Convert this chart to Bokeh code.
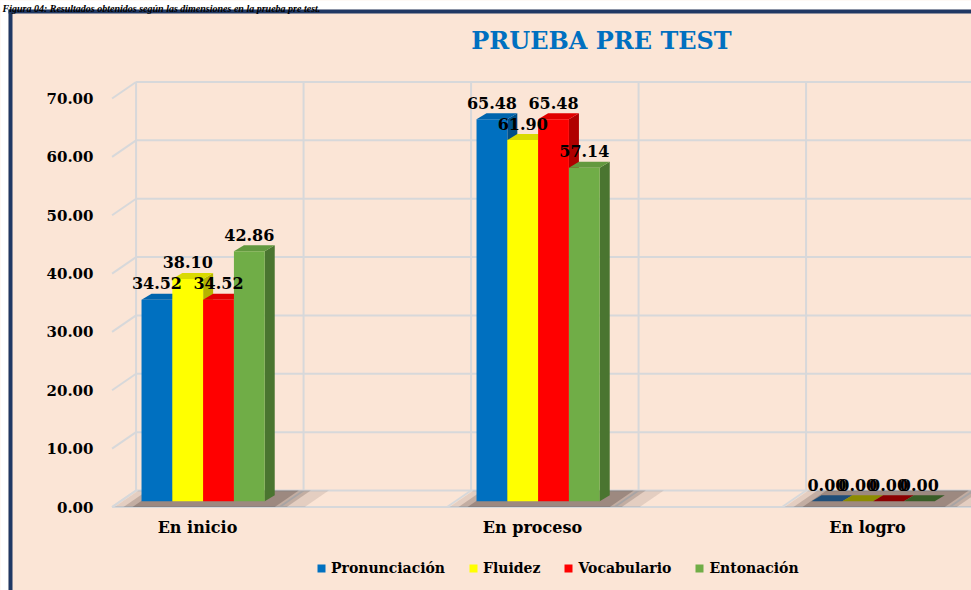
from bokeh.plotting import figure
from bokeh.models import (ColumnDataSource, FixedTicker, Legend, LegendItem, Range1d,
                          PrintfTickFormatter, BoxAnnotation, Label)
from bokeh.core.properties import value
from bokeh.embed import file_html
from bokeh.resources import INLINE

# ---------------- data ----------------
categories = ["En inicio", "En proceso", "En logro"]
series = ["Pronunciación", "Fluidez", "Vocabulario", "Entonación"]
pronunciacion = [34.52, 65.48, 0.00]
fluidez = [38.10, 61.90, 0.00]
vocabulario = [34.52, 65.48, 0.00]
entonacion = [42.86, 57.14, 0.00]
y_ticks = [0, 10, 20, 30, 40, 50, 60, 70]
title_text = "PRUEBA PRE TEST"
caption_text = "Figura 04: Resultados obtenidos según las dimensiones en la prueba pre test."

values = [pronunciacion, fluidez, vocabulario, entonacion]
front_colors = ["#0070C0", "#FFFF00", "#FF0000", "#70AD47"]
top_colors = ["#0064AD", "#DADA00", "#E00000", "#63993F"]
flat_colors = ["#1F4E79", "#8C8C00", "#8B0000", "#385D27"]
side_colors = ["#004F88", "#B5B500", "#B00000", "#4A7530"]

# ---------------- layout constants (canvas pixels) ----------------
W, H = 971, 590
SX = 335.0            # px per category
SY = 408.5 / 70.0     # px per value unit
CAT0 = 197            # canvas x of first category label
ZERO = 506.5          # canvas y of value 0 (front plane)

def px_x(n):
    return n / SX

def px_y(n):
    return n / SY

def cx(c):            # canvas x -> data x
    return (c - CAT0) / SX

def cy(c):            # canvas y -> data y
    return (ZERO - c) / SY

BW = px_x(30.8)       # bar width
BX = 0.0168           # bar group shift (depth)
BY = px_y(5.7)        # bar plane lift (depth)
DXb, DYb = px_x(10), px_y(6)       # bar depth projection
DXB, DYB = px_x(24), px_y(16.5)    # back wall projection
X0 = -0.255           # left edge of floor (front)

x_start, x_end = cx(0), cx(W)
y_start, y_end = cy(H), cy(0)

PEACH = "#FBE5D6"
GRID = "#D7D8DA"
NAVY = "#1F3864"

p = figure(width=W, height=H, output_backend="svg", toolbar_location=None,
           x_range=Range1d(x_start, x_end), y_range=Range1d(y_start, y_end),
           min_border_left=0, min_border_right=0, min_border_top=0,
           min_border_bottom=0)
p.background_fill_color = PEACH
p.border_fill_color = PEACH
p.outline_line_color = None
p.grid.visible = False

# ---------------- 3D walls / grid ----------------
n_cats = len(categories)
x_right = x_end + 0.2
gx0, gx1, gy0, gy1 = [], [], [], []
for t in y_ticks:
    gx0.append(X0); gy0.append(t); gx1.append(X0 + DXB); gy1.append(t + DYB)
    gx0.append(X0 + DXB); gy0.append(t + DYB); gx1.append(x_right); gy1.append(t + DYB)
gx0.append(X0); gy0.append(0); gx1.append(x_right); gy1.append(0)
k = 0
while X0 + 0.5 * k < x_end + 0.1:
    xb = X0 + 0.5 * k
    gx0.append(xb); gy0.append(0); gx1.append(xb + DXB); gy1.append(DYB)
    gx0.append(xb + DXB); gy0.append(DYB); gx1.append(xb + DXB); gy1.append(max(y_ticks) + DYB)
    k += 1
p.segment(x0=gx0, y0=gy0, x1=gx1, y1=gy1, line_color=GRID, line_width=2)

# ---------------- floor shadows ----------------
for pad_l, pad_r, alpha in [(27, 40, 0.12), (18, 22, 0.20), (9, 10, 0.28)]:
    sxs, sys_ = [], []
    for c in range(n_cats):
        gl = c + BX - 2 * BW
        gr = c + BX + 2 * BW
        l2, r2 = gl - px_x(pad_l), gr + px_x(pad_r)
        sxs.append([l2, r2, r2 + DXB, l2 + DXB]); sys_.append([0, 0, DYB, DYB])
    p.patches(xs=sxs, ys=sys_, fill_color="#3E2C26", fill_alpha=alpha, line_color=None)

# ---------------- bars ----------------
front_renderers = []
lab_x, lab_y, lab_t = [], [], []
for i, vals in enumerate(values):
    lefts = [c + BX + (i - 2) * BW for c in range(n_cats)]
    rights = [l + BW for l in lefts]
    tops = [BY + v for v in vals]
    side_xs = [[r, r + DXb, r + DXb, r] for r in rights]
    side_ys = [[BY, BY + DYb, t + DYb, t] for t in tops]
    top_xs = [[l, r, r + DXb, l + DXb] for l, r in zip(lefts, rights)]
    top_ys = [[t, t, t + DYb, t + DYb] for t in tops]
    tcol = [flat_colors[i] if v == 0 else top_colors[i] for v in vals]
    p.patches(xs=side_xs, ys=side_ys, fill_color=side_colors[i], line_color=None)
    p.patches(source=ColumnDataSource(dict(xs=top_xs, ys=top_ys, c=tcol)),
              xs="xs", ys="ys", fill_color="c", line_color=None)
    src = ColumnDataSource(dict(left=lefts, right=rights, bottom=[BY] * n_cats, top=tops))
    fr = p.quad(left="left", right="right", bottom="bottom", top="top", source=src,
                fill_color=front_colors[i], line_color=None)
    front_renderers.append(fr)
    for l, r, t, v in zip(lefts, rights, tops, vals):
        lab_x.append((l + r) / 2)
        lab_y.append(t + px_y(16.5))
        lab_t.append("%.2f" % v)

p.text(x=lab_x, y=lab_y, text=lab_t, text_align="center", text_baseline="alphabetic",
       text_font=value("DejaVu Serif"), text_font_style="bold", text_font_size="16px",
       text_color="black")

# ---------------- axes ----------------
p.yaxis.ticker = FixedTicker(ticks=y_ticks)
p.yaxis.formatter = PrintfTickFormatter(format="%.2f")
p.xaxis.ticker = FixedTicker(ticks=list(range(n_cats)))
p.xaxis.major_label_overrides = {i: c for i, c in enumerate(categories)}
for ax in (p.xaxis, p.yaxis):
    ax.axis_line_color = None
    ax.major_tick_line_color = None
    ax.minor_tick_line_color = None
    ax.major_tick_out = 0
    ax.major_tick_in = 0
    ax.minor_tick_out = 0
    ax.minor_tick_in = 0
    ax.major_label_text_font = "DejaVu Serif"
    ax.major_label_text_font_style = "bold"
    ax.major_label_text_color = "black"
p.yaxis.major_label_text_font_size = "15px"
p.yaxis.major_label_standoff = -93
p.xaxis.major_label_text_font_size = "16px"
p.xaxis.major_label_standoff = -73

# ---------------- frame border and outside ----------------
p.add_layout(BoxAnnotation(left=cx(-5), right=cx(8), bottom=cy(H + 5), top=cy(-5),
                           fill_color="white", fill_alpha=1, line_color=None))
p.add_layout(BoxAnnotation(left=cx(-5), right=cx(W + 5), bottom=cy(9), top=cy(-5),
                           fill_color="white", fill_alpha=1, line_color=None))
p.add_layout(BoxAnnotation(left=cx(8), right=cx(12), bottom=cy(H + 5), top=cy(9),
                           fill_color=NAVY, fill_alpha=1, line_color=None))
p.add_layout(BoxAnnotation(left=cx(8), right=cx(W + 5), bottom=cy(13), top=cy(9),
                           fill_color=NAVY, fill_alpha=1, line_color=None))

# ---------------- caption and title ----------------
p.add_layout(Label(x=cx(2), y=cy(7.5), text=caption_text, text_align="left",
                   text_baseline="alphabetic", text_font="Liberation Serif",
                   text_font_style="bold italic", text_font_size="10px", text_color="black"))
p.add_layout(Label(x=cx(601), y=cy(40), text=title_text, text_align="center",
                   text_baseline="middle", text_font="DejaVu Serif",
                   text_font_style="bold", text_font_size="24px", text_color="#0070C0"))

# ---------------- legend ----------------
legend = Legend(items=[LegendItem(label=s, renderers=[r]) for s, r in zip(series, front_renderers)],
                orientation="horizontal", location=(316, 14),
                glyph_width=10, glyph_height=10, label_standoff=5, spacing=23,
                padding=0, margin=0, border_line_color=None, background_fill_alpha=0,
                label_text_font="DejaVu Serif", label_text_font_style="bold",
                label_text_font_size="14px", label_text_color="black")
p.add_layout(legend)

open("out.html", "w").write(file_html(p, INLINE))
